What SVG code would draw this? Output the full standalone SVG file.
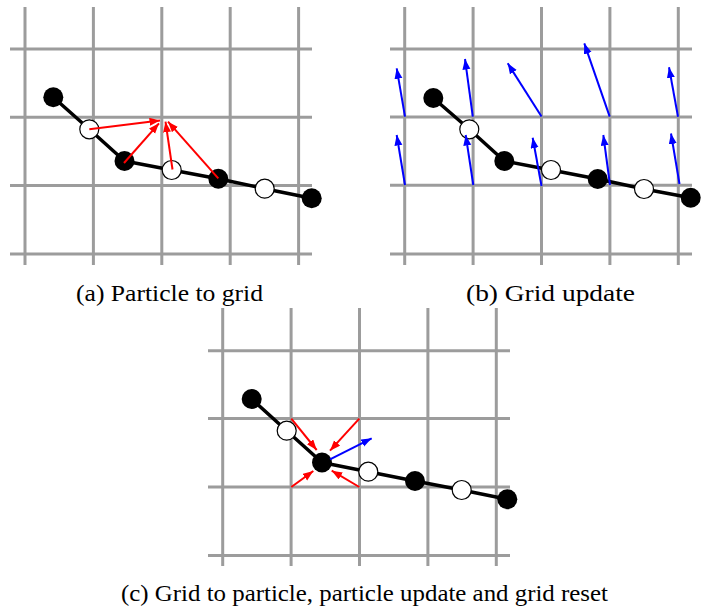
<svg xmlns="http://www.w3.org/2000/svg" width="713" height="608" viewBox="0 0 713 608">
  <defs>
    <style>
      .grid line { stroke: #9c9c9c; stroke-width: 3; }
      .chain { fill: none; stroke: #000; stroke-width: 3.5; stroke-linejoin: round; }
      .pb { fill: #000; }
      .pw { fill: #fff; stroke: #000; stroke-width: 1.2; }
      .red { stroke: #ff0000; stroke-width: 2; marker-end: url(#ahr); }
      .blue { stroke: #0000ff; stroke-width: 2; marker-end: url(#ahb); }
      .cap { font-size: 24px; fill: #000; }
    </style>
    <marker id="ahr" markerUnits="userSpaceOnUse" markerWidth="12" markerHeight="9" refX="10.5" refY="4" orient="auto">
      <path d="M0,0 L10.5,4 L0,8 z" fill="#ff0000"/>
    </marker>
    <marker id="ahb" markerUnits="userSpaceOnUse" markerWidth="12" markerHeight="9" refX="10.5" refY="4" orient="auto">
      <path d="M0,0 L10.5,4 L0,8 z" fill="#0000ff"/>
    </marker>
  </defs>
  <rect width="713" height="608" fill="#fff"/>

  <!-- Panel (a) -->
  <g id="panel-a">
    <g class="grid" id="grid-a">
      <line x1="25" y1="7" x2="25" y2="265"/>
      <line x1="93.4" y1="7" x2="93.4" y2="265"/>
      <line x1="161.8" y1="7" x2="161.8" y2="265"/>
      <line x1="230.2" y1="7" x2="230.2" y2="265"/>
      <line x1="298.6" y1="7" x2="298.6" y2="265"/>
      <line x1="10" y1="49" x2="312" y2="49"/>
      <line x1="10" y1="117.2" x2="312" y2="117.2"/>
      <line x1="10" y1="185.6" x2="312" y2="185.6"/>
      <line x1="10" y1="254" x2="312" y2="254"/>
    </g>
    <g id="connectors-a">
      <polyline class="chain" points="53.3,97.3 89.3,129.3 124.5,161 171.7,170 218.3,178.7 264.7,188.7 311.7,198.3"/>
    </g>
    <g id="a-p1"><circle class="pb" cx="53.3" cy="97.3" r="10"/></g>
    <g id="a-p2"><circle class="pw" cx="89.3" cy="129.3" r="9.5"/></g>
    <g id="a-p3"><circle class="pb" cx="124.5" cy="161" r="10"/></g>
    <g id="a-p4"><circle class="pw" cx="171.7" cy="170" r="9.5"/></g>
    <g id="a-p5"><circle class="pb" cx="218.3" cy="178.7" r="10"/></g>
    <g id="a-p6"><circle class="pw" cx="264.7" cy="188.7" r="9.5"/></g>
    <g id="a-p7"><circle class="pb" cx="311.7" cy="198.3" r="10"/></g>
    <g id="arrows-a">
      <line class="red" x1="89.3" y1="129.3" x2="160" y2="120.5"/>
      <line class="red" x1="124" y1="163" x2="159" y2="123.3"/>
      <line class="red" x1="172.5" y1="169.5" x2="165.5" y2="121.7"/>
      <line class="red" x1="218.3" y1="178.3" x2="168" y2="121.7"/>
    </g>
    <text class="cap" font-family="Liberation Serif, Times New Roman, serif" x="76" y="301" textLength="187" lengthAdjust="spacingAndGlyphs">(a) Particle to grid</text>
  </g>

  <!-- Panel (b) -->
  <g id="panel-b">
    <g class="grid" id="grid-b">
      <line x1="404.7" y1="7" x2="404.7" y2="265"/>
      <line x1="473.1" y1="7" x2="473.1" y2="265"/>
      <line x1="541.5" y1="7" x2="541.5" y2="265"/>
      <line x1="609.9" y1="7" x2="609.9" y2="265"/>
      <line x1="678.3" y1="7" x2="678.3" y2="265"/>
      <line x1="390" y1="49" x2="692" y2="49"/>
      <line x1="390" y1="117" x2="692" y2="117"/>
      <line x1="390" y1="185.3" x2="692" y2="185.3"/>
      <line x1="390" y1="254" x2="692" y2="254"/>
    </g>
    <g id="connectors-b">
      <polyline class="chain" points="433.3,98 469.3,129.3 504.3,161 551,170 597.7,179 644,189 690.7,197.7"/>
    </g>
    <g id="b-p1"><circle class="pb" cx="433.3" cy="98" r="10"/></g>
    <g id="b-p2"><circle class="pw" cx="469.3" cy="129.3" r="9.5"/></g>
    <g id="b-p3"><circle class="pb" cx="504.3" cy="161" r="10"/></g>
    <g id="b-p4"><circle class="pw" cx="551" cy="170" r="9.5"/></g>
    <g id="b-p5"><circle class="pb" cx="597.7" cy="179" r="10"/></g>
    <g id="b-p6"><circle class="pw" cx="644" cy="189" r="9.5"/></g>
    <g id="b-p7"><circle class="pb" cx="690.7" cy="197.7" r="10"/></g>
    <g id="arrows-b">
      <line class="blue" x1="405" y1="116.7" x2="396.7" y2="68.3"/>
      <line class="blue" x1="472.8" y1="116.7" x2="465" y2="59"/>
      <line class="blue" x1="541.5" y1="116.5" x2="507.7" y2="63.3"/>
      <line class="blue" x1="609.7" y1="116.7" x2="584.3" y2="43.3"/>
      <line class="blue" x1="678" y1="116.7" x2="669" y2="67.3"/>
      <line class="blue" x1="405" y1="185" x2="396.7" y2="135"/>
      <line class="blue" x1="473.3" y1="185" x2="465.7" y2="135"/>
      <line class="blue" x1="541.5" y1="186" x2="532.7" y2="137.7"/>
      <line class="blue" x1="610" y1="185" x2="603.3" y2="135"/>
      <line class="blue" x1="679.5" y1="184" x2="671" y2="133.5"/>
    </g>
    <text class="cap" font-family="Liberation Serif, Times New Roman, serif" x="466" y="301" textLength="169" lengthAdjust="spacingAndGlyphs">(b) Grid update</text>
  </g>

  <!-- Panel (c) -->
  <g id="panel-c">
    <g class="grid" id="grid-c">
      <line x1="222.7" y1="308" x2="222.7" y2="566"/>
      <line x1="291.1" y1="308" x2="291.1" y2="566"/>
      <line x1="359.5" y1="308" x2="359.5" y2="566"/>
      <line x1="427.9" y1="308" x2="427.9" y2="566"/>
      <line x1="496.3" y1="308" x2="496.3" y2="566"/>
      <line x1="208" y1="350.7" x2="510" y2="350.7"/>
      <line x1="208" y1="418.6" x2="510" y2="418.6"/>
      <line x1="208" y1="487" x2="510" y2="487"/>
      <line x1="208" y1="555.6" x2="510" y2="555.6"/>
    </g>
    <g id="connectors-c">
      <polyline class="chain" points="251.7,399 286.7,430.7 322,462.5 368.3,471.7 415,481 461.7,490 507.3,499.3"/>
    </g>
    <g id="c-p1"><circle class="pb" cx="251.7" cy="399" r="10"/></g>
    <g id="c-p2"><circle class="pw" cx="286.7" cy="430.7" r="9.5"/></g>
    <g id="c-p3"><circle class="pb" cx="322" cy="462.5" r="10"/></g>
    <g id="c-p4"><circle class="pw" cx="368.3" cy="471.7" r="9.5"/></g>
    <g id="c-p5"><circle class="pb" cx="415" cy="481" r="10"/></g>
    <g id="c-p6"><circle class="pw" cx="461.7" cy="490" r="9.5"/></g>
    <g id="c-p7"><circle class="pb" cx="507.3" cy="499.3" r="10"/></g>
    <g id="arrows-c">
      <line class="red" x1="291.3" y1="418.6" x2="316.7" y2="450"/>
      <line class="red" x1="359.3" y1="418.6" x2="330" y2="450.7"/>
      <line class="red" x1="291.3" y1="487" x2="313.3" y2="471"/>
      <line class="red" x1="359.3" y1="487" x2="331.7" y2="470.7"/>
      <line class="blue" x1="330" y1="459.3" x2="371.7" y2="438.3"/>
    </g>
    <text class="cap" font-family="Liberation Serif, Times New Roman, serif" x="121" y="600.5" textLength="487" lengthAdjust="spacingAndGlyphs">(c) Grid to particle, particle update and grid reset</text>
  </g>
</svg>
